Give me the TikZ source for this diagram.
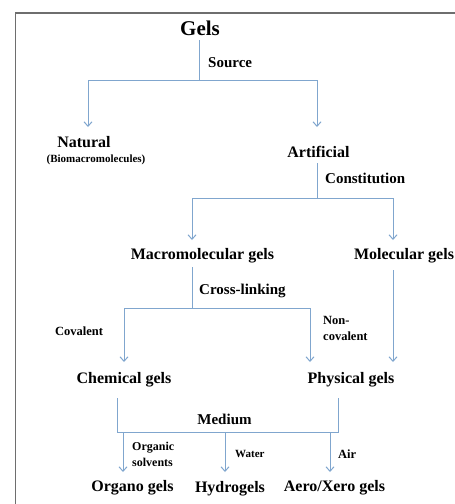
\documentclass[tikz,border=0pt]{standalone}
\usepackage{fontspec}
\setmainfont{Liberation Serif}
\usetikzlibrary{arrows.meta}
\definecolor{arrowblue}{RGB}{128,166,206}
\definecolor{framegray}{RGB}{110,110,110}
\tikzset{
  mainnode/.style={font=\fontsize{16}{18}\selectfont\bfseries, inner sep=0pt, anchor=base},
  labnode/.style={font=\fontsize{15}{17}\selectfont\bfseries, inner sep=0pt, anchor=base west},
  smallnode/.style={font=\fontsize{12.5}{16.5}\selectfont\bfseries, inner sep=0pt, anchor=base west, align=left},
  conn/.style={draw=arrowblue, line width=1pt},
  arr/.style={conn, -{Straight Barb[length=4.5pt,width=8pt]}}
}
\begin{document}
\begin{tikzpicture}[x=1pt,y=-1pt]
\useasboundingbox (0,0) rectangle (455,504);
% frame
\draw[framegray, line width=1.5pt] (15.5,504) -- (15.5,13) -- (455,13);

% nodes
\node[mainnode, font=\fontsize{21}{23}\selectfont\bfseries] (gels) at (200,35) {Gels};
\node[labnode] (source) at (208,67) {Source};
\node[mainnode] (natural) at (84,147) {Natural};
\node[mainnode, font=\fontsize{11}{12}\selectfont\bfseries] (bio) at (96,162) {(Biomacromolecules)};
\node[mainnode] (artificial) at (318.5,157) {Artificial};
\node[labnode] (constitution) at (325,183) {Constitution};
\node[mainnode] (macro) at (202.5,259) {Macromolecular gels};
\node[mainnode] (molecular) at (404,259) {Molecular gels};
\node[labnode] (crosslinking) at (199,294) {Cross-linking};
\node[smallnode] (covalent) at (55,335) {Covalent};
\node[smallnode, anchor=north west] (noncovalent) at (323,316) {Non-\\covalent};
\node[mainnode] (chemical) at (124,383) {Chemical gels};
\node[mainnode] (physical) at (351,383) {Physical gels};
\node[labnode, anchor=base] (medium) at (224.5,424) {Medium};
\node[smallnode, font=\fontsize{12}{16}\selectfont\bfseries, anchor=north west] (organic) at (132,442) {Organic\\solvents};
\node[smallnode, font=\fontsize{11}{12}\selectfont\bfseries] (water) at (235,457) {Water};
\node[smallnode] (air) at (338,458) {Air};
\node[mainnode] (organo) at (132.5,491) {Organo gels};
\node[mainnode] (hydro) at (230,492) {Hydrogels};
\node[mainnode] (aero) at (334.5,491) {Aero/Xero gels};

% junction coordinates
\coordinate (g1) at (199,80);
\coordinate (natT) at (88,127);
\coordinate (artT) at (317,127);
\coordinate (a0) at (317,163);
\coordinate (a1) at (317,198);
\coordinate (macT) at (192,240);
\coordinate (molT) at (393,240);
\coordinate (m0) at (192,267);
\coordinate (m1) at (192,308);
\coordinate (cheT) at (124,362);
\coordinate (phyT) at (310,362);
\coordinate (mo0) at (393,270);
\coordinate (mo1) at (393,362);
\coordinate (c0) at (117,398);
\coordinate (c1) at (117,432);
\coordinate (p0) at (338,398);
\coordinate (p1) at (338,432);
\coordinate (orgS) at (123,432);
\coordinate (orgT) at (123,472);
\coordinate (hydS) at (225,432);
\coordinate (hydT) at (225,472);
\coordinate (aerS) at (330,432);
\coordinate (aerT) at (330,472);

% connectors
\draw[conn] ([yshift=-5pt]gels.south -| g1) -- (g1);
\draw[arr] (g1) -| (natT);
\draw[arr] (g1) -| (artT);

\draw[conn] (a0) -- (a1);
\draw[arr] (a1) -| (macT);
\draw[arr] (a1) -| (molT);

\draw[conn] (m0) -- (m1);
\draw[arr] (m1) -| (cheT);
\draw[arr] (m1) -| (phyT);

\draw[arr] (mo0) -- (mo1);

\draw[conn] (c0) -- (c1) -- (p1) -- (p0);
\draw[arr] (orgS) -- (orgT);
\draw[arr] (hydS) -- (hydT);
\draw[arr] (aerS) -- (aerT);
\end{tikzpicture}
\end{document}
